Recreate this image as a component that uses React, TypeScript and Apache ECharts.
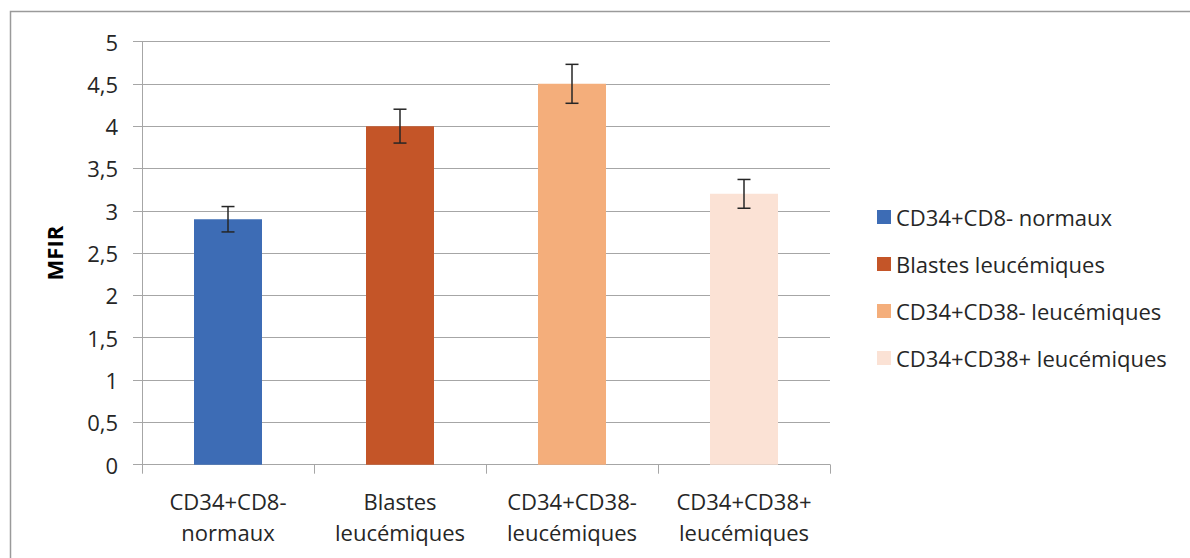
import React, { useEffect, useRef } from "react";
import * as echarts from "echarts";

const categories = [
  "CD34+CD8-\nnormaux",
  "Blastes\nleucémiques",
  "CD34+CD38-\nleucémiques",
  "CD34+CD38+\nleucémiques",
];
const seriesNames = [
  "CD34+CD8- normaux",
  "Blastes leucémiques",
  "CD34+CD38- leucémiques",
  "CD34+CD38+ leucémiques",
];
const values = [2.9, 4.0, 4.5, 3.2];
const errors = [0.15, 0.2, 0.23, 0.17];
const colors = ["#3D6CB5", "#C45528", "#F4AE7B", "#FBE2D5"];
const yTicks = { min: 0, max: 5, interval: 0.5 };

const FONT = "'Open Sans', 'Noto Sans', sans-serif";
const FS = 22;

export default function App() {
  const ref = useRef<HTMLDivElement>(null);
  useEffect(() => {
    if (!ref.current) return;
    const chart = echarts.init(ref.current, undefined, { renderer: "svg" });
    const barSeries = seriesNames.map((name, i) => ({
      name,
      type: "bar",
      stack: "all",
      barWidth: 68,
      itemStyle: { color: colors[i] },
      data: values.map((v, j) => (j === i ? v : "-")),
    }));
    const errData = values.map((v, i) => [i, v - errors[i], v + errors[i]]);
    chart.setOption({
      animation: false,
      backgroundColor: "#ffffff",
      textStyle: { fontFamily: FONT },
      graphic: [
        {
          type: "rect",
          shape: { x: 10.5, y: 11.5, width: 1200, height: 600 },
          style: { fill: "none", stroke: "#9a9a9a", lineWidth: 1.5 },
          silent: true,
        },
      ],
      grid: { left: 142, right: 360, top: 41.5, bottom: 93.3 },
      legend: {
        orient: "vertical",
        left: 872,
        top: 200,
        itemWidth: 14,
        itemHeight: 14,
        itemGap: 23,
        icon: "rect",
        textStyle: { fontSize: FS, color: "#262626", fontFamily: FONT, lineHeight: 24 },
        data: seriesNames,
      },
      xAxis: {
        type: "category",
        data: categories,
        axisLine: { lineStyle: { color: "#a6a6a6", width: 1 } },
        axisTick: { show: true, length: 9, lineStyle: { color: "#a6a6a6" } },
        axisLabel: {
          interval: 0,
          hideOverlap: false,
          fontSize: FS,
          color: "#262626",
          lineHeight: 31,
          margin: 21,
          fontFamily: FONT,
        },
      },
      yAxis: {
        type: "value",
        min: yTicks.min,
        max: yTicks.max,
        interval: yTicks.interval,
        name: "MFIR",
        nameLocation: "middle",
        nameGap: 77,
        nameRotate: 90,
        nameTextStyle: { fontSize: 22, fontWeight: "bold", color: "#000000", fontFamily: FONT },
        axisLine: { show: true, lineStyle: { color: "#a6a6a6", width: 1 } },
        axisTick: { show: true, length: 9, lineStyle: { color: "#a6a6a6" } },
        splitLine: { lineStyle: { color: "#a6a6a6", width: 1 } },
        axisLabel: {
          fontSize: FS,
          color: "#262626",
          margin: 24,
          fontFamily: FONT,
          formatter: (v: number) => String(v).replace(".", ","),
        },
      },
      series: [
        ...barSeries,
        {
          type: "custom",
          name: "err",
          z: 10,
          data: errData,
          renderItem: (params: any, api: any) => {
            const x = api.value(0);
            const lo = api.coord([x, api.value(1)]);
            const hi = api.coord([x, api.value(2)]);
            const hw = 6.5;
            const style = { stroke: "#262626", lineWidth: 1.5 };
            return {
              type: "group",
              children: [
                { type: "line", shape: { x1: lo[0], y1: lo[1], x2: hi[0], y2: hi[1] }, style },
                { type: "line", shape: { x1: lo[0] - hw, y1: lo[1], x2: lo[0] + hw, y2: lo[1] }, style },
                { type: "line", shape: { x1: hi[0] - hw, y1: hi[1], x2: hi[0] + hw, y2: hi[1] }, style },
              ],
            };
          },
        },
      ],
    });
    return () => chart.dispose();
  }, []);
  return (
    <div
      ref={ref}
      style={{ position: "absolute", left: 0, top: 0, width: 1190, height: 558 }}
    />
  );
}
